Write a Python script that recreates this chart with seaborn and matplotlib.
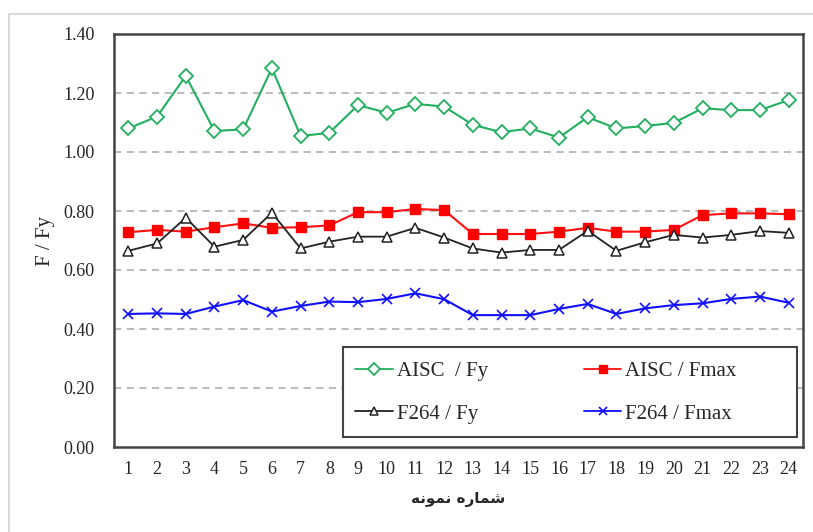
import matplotlib
matplotlib.use("Agg")
import matplotlib.pyplot as plt
import seaborn as sns
import pandas as pd
from matplotlib.patches import Rectangle

samples = list(range(1, 25))
aisc_fy = [1.080, 1.120, 1.258, 1.071, 1.077, 1.284, 1.054, 1.065, 1.159, 1.133, 1.163, 1.154,
           1.092, 1.067, 1.080, 1.049, 1.118, 1.080, 1.088, 1.099, 1.148, 1.142, 1.142, 1.176]
aisc_fmax = [0.728, 0.736, 0.730, 0.745, 0.758, 0.743, 0.745, 0.751, 0.796, 0.796, 0.807, 0.803,
             0.722, 0.722, 0.722, 0.730, 0.743, 0.730, 0.730, 0.736, 0.786, 0.792, 0.792, 0.789]
f264_fy = [0.665, 0.690, 0.777, 0.679, 0.702, 0.794, 0.673, 0.696, 0.713, 0.713, 0.743, 0.710,
           0.673, 0.659, 0.668, 0.668, 0.733, 0.665, 0.694, 0.719, 0.710, 0.719, 0.732, 0.726]
f264_fmax = [0.451, 0.453, 0.451, 0.476, 0.498, 0.459, 0.478, 0.493, 0.491, 0.502, 0.521, 0.501,
             0.447, 0.447, 0.447, 0.468, 0.485, 0.451, 0.470, 0.481, 0.487, 0.502, 0.510, 0.489]
series_names = ["AISC  / Fy", "AISC / Fmax", "F264 / Fy", "F264 / Fmax"]
y_ticks = [0.0, 0.2, 0.4, 0.6, 0.8, 1.0, 1.2, 1.4]
y_label = "F / Fy"
# Persian "شماره نمونه" in pre-shaped visual order
x_label = "\uFEEA\uFEE7\uFEEE\uFEE4\uFEE7 \uFEE9\uFEAD\uFE8E\uFEE4\uFEB7"

df = pd.DataFrame({
    "sample": samples * 4,
    "value": aisc_fy + aisc_fmax + f264_fy + f264_fmax,
    "series": sum([[n] * len(samples) for n in series_names], []),
})

sns.set_theme(style="white")
plt.rcParams["font.family"] = ["Liberation Serif", "DejaVu Sans"]

fig = plt.figure(figsize=(8.13, 5.32), dpi=100)
ax = fig.add_axes([114 / 813, 1 - 447 / 532, (803 - 114) / 813, (447 - 34) / 532])

# outer chart border
fig.patches.append(Rectangle((9 / 813, -0.05), 1.1, 1 - 14 / 532 + 0.05, transform=fig.transFigure,
                             fill=False, edgecolor="#d9d9d9", linewidth=1.5, zorder=0))

styles = {
    "AISC  / Fy": dict(color="#22b060", marker="D", mfc="white", mec="#22b060", ms=6.8, mew=1.3, lw=1.5),
    "AISC / Fmax": dict(color="#ff1010", marker="s", mfc="#ff0000", mec="#ff0000", ms=7.5, mew=1, lw=1.5),
    "F264 / Fy": dict(color="#222222", marker="^", mfc="white", mec="#222222", ms=7, mew=1.1, lw=1.3),
    "F264 / Fmax": dict(color="#1010ff", marker="x", mfc="#1010ff", mec="#1010ff", ms=7, mew=1.2, lw=1.5),
}

handles = {}
for name in series_names:
    st = styles[name]
    sub = df[df["series"] == name]
    sns.lineplot(data=sub, x="sample", y="value", ax=ax, label=name, color=st["color"],
                 linewidth=st["lw"], marker=st["marker"], markersize=st["ms"],
                 markerfacecolor=st["mfc"], markeredgecolor=st["mec"], markeredgewidth=st["mew"],
                 zorder=3)
    handles[name] = ax.get_lines()[-1]

ax.set_xlim(0.5, 24.5)
ax.set_ylim(0, 1.4)
ax.set_yticks(y_ticks)
ax.set_yticklabels([f"{v:.2f}" for v in y_ticks], fontsize=13)
ax.set_xticks(samples)
ax.set_xticklabels([str(s) for s in samples], fontsize=13)
ax.tick_params(axis="both", length=0, pad=14)
ax.tick_params(axis="x", pad=10)
for v in y_ticks[1:-1]:
    ax.axhline(v, color="#b5b5b5", linestyle=(0, (4, 3)), linewidth=1.3, zorder=1)
for sp in ax.spines.values():
    sp.set_color("#444444")
    sp.set_linewidth(1.8)

ax.set_ylabel(y_label, fontsize=15, labelpad=6)
ax.set_xlabel(x_label, fontsize=11, fontweight="bold", family=["DejaVu Sans"], labelpad=10)

# legend: row-major order (AISC/Fy, AISC/Fmax ; F264/Fy, F264/Fmax)
order = ["AISC  / Fy", "F264 / Fy", "AISC / Fmax", "F264 / Fmax"]
leg = ax.legend([handles[n] for n in order], order, loc="upper left",
                bbox_to_anchor=(0.350, 0.207), ncol=2, fontsize=15, frameon=False,
                handlelength=1.8, columnspacing=4.6, borderpad=0.0, labelspacing=1.1,
                handletextpad=0.2, markerscale=0.85, borderaxespad=0.0)
for line in leg.get_lines():
    line.set_linewidth(1.3)
leg.set_zorder(6)
ax.add_patch(Rectangle((0.332, 0.024), 0.659, 0.218, transform=ax.transAxes,
                       facecolor="white", edgecolor="#444444", linewidth=1.5, zorder=5))

fig.savefig("out.png", dpi=100)
